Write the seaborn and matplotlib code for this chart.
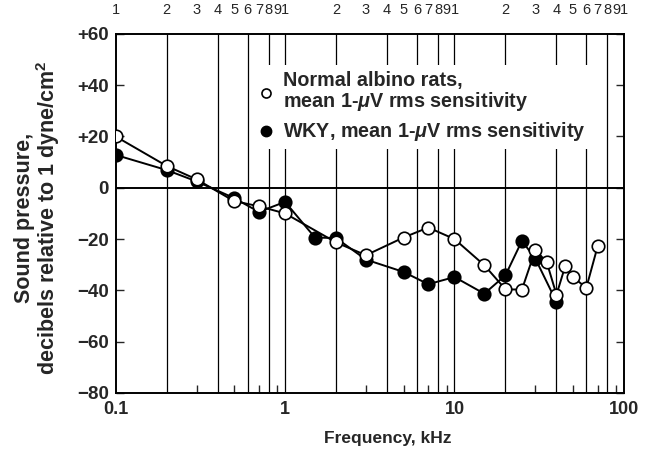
#!/usr/bin/env python3
"""Sound pressure sensitivity curves: normal albino rats vs WKY."""
import matplotlib

matplotlib.use("Agg")
import matplotlib.pyplot as plt
from matplotlib.lines import Line2D
import pandas as pd
import seaborn as sns

# Frequencies (kHz) and mean 1-uV rms sensitivity (dB re 1 dyne/cm^2)
NORMAL_FREQ = [0.1, 0.2, 0.3, 0.5, 0.7, 1.0, 2.0, 3.0, 5.0, 7.0, 10.0, 15.0,
               20.0, 25.0, 30.0, 35.0, 40.0, 45.0, 50.0, 60.0, 70.0]
NORMAL_DB = [20, 8.5, 3.3, -5.2, -7.2, -10, -21.3, -26.3, -19.4, -15.5, -20,
             -30.2, -39.6, -39.7, -24.3, -28.9, -41.7, -30.6, -34.8, -39, -22.8]

WKY_FREQ = [0.1, 0.2, 0.3, 0.5, 0.7, 1.0, 1.5, 2.0, 3.0, 5.0, 7.0, 10.0, 15.0,
            20.0, 25.0, 30.0, 40.0]
WKY_DB = [12.8, 6.9, 2.5, -4.0, -9.4, -5.5, -19.4, -19.6, -28, -32.8, -37.6,
          -34.8, -41.3, -34.1, -20.7, -27.6, -44.5]

NORMAL_LABEL = "Normal albino rats,\nmean 1-$\\mu$V rms sensitivity"
WKY_LABEL = "WKY, mean 1-$\\mu$V rms sensitivity"

Y_TICKS = [60, 40, 20, 0, -20, -40, -60, -80]
Y_TICK_LABELS = ["+60", "+40", "+20", "0", "\u221220", "\u221240", "\u221260", "\u221280"]
X_TICKS = [0.1, 1, 10, 100]
X_TICK_LABELS = ["0.1", "1", "10", "100"]

sns.set_style("white")
plt.rcParams["font.family"] = ["Liberation Sans", "DejaVu Sans"]
plt.rcParams["font.weight"] = "bold"
plt.rcParams["mathtext.fontset"] = "custom"
plt.rcParams["mathtext.rm"] = "Liberation Sans:bold"
plt.rcParams["mathtext.it"] = "Liberation Sans:italic:bold"

fig = plt.figure(figsize=(6.6, 4.58), dpi=100)
ax = fig.add_axes([0.1753, 0.142, 0.770, 0.784])

normal = pd.DataFrame({"freq": NORMAL_FREQ, "db": NORMAL_DB})
wky = pd.DataFrame({"freq": WKY_FREQ, "db": WKY_DB})

sns.lineplot(data=wky, x="freq", y="db", ax=ax, sort=False, color="black",
             lw=1.4, marker="o", markersize=9, markerfacecolor="black",
             markeredgecolor="black", markeredgewidth=1.2, zorder=4)
sns.lineplot(data=normal, x="freq", y="db", ax=ax, sort=False, color="black",
             lw=1.4, marker="o", markersize=9, markerfacecolor="white",
             markeredgecolor="black", markeredgewidth=1.2, zorder=5)

ax.set_xscale("log")
ax.set_xlim(0.1, 100)
ax.set_ylim(-80, 60)

# vertical rules at 2, 4, 6, 8 of each decade and at decade marks
for dec in (0.1, 1, 10):
    for m in (2, 4, 6, 8, 10):
        if dec * m < 100:
            ax.axvline(dec * m, color="black", lw=0.9, zorder=1)
ax.axhline(0, color="black", lw=1.4, zorder=1)

ax.set_xticks(X_TICKS)
ax.set_xticklabels(X_TICK_LABELS)
minor = [d * m for d in (0.1, 1, 10) for m in (3, 5, 7, 9)]
ax.set_xticks(minor, minor=True)
ax.xaxis.set_minor_formatter(matplotlib.ticker.NullFormatter())
ax.tick_params(axis="x", which="major", length=0, pad=6, labelsize=13)
ax.tick_params(axis="x", which="minor", direction="in", length=6, width=1,
               top=True, bottom=True)
ax.set_yticks(Y_TICKS)
ax.set_yticklabels(Y_TICK_LABELS)
ax.tick_params(axis="y", direction="in", length=6, width=1, left=True,
               right=True, labelsize=13.5, pad=5)

for sp in ax.spines.values():
    sp.set_color("black")
    sp.set_linewidth(1.4)

# top log-cycle labels
top = ax.twiny()
top.set_xscale("log")
top.set_xlim(0.1, 100)
top_pos = [d * m for d in (0.1, 1, 10) for m in range(1, 10)] + [100]
top_lab = [str(m) for d in (0.1, 1, 10) for m in range(1, 10)] + ["1"]
top.set_xticks(top_pos)
top.set_xticklabels(top_lab, fontweight="normal")
top.xaxis.set_minor_locator(matplotlib.ticker.NullLocator())
top.tick_params(axis="x", length=0, pad=12, labelsize=10.5)
for sp in top.spines.values():
    sp.set_visible(False)

ax.set_xlabel("Frequency, kHz", fontsize=12.5, fontweight="bold")
ax.xaxis.set_label_coords(0.536, -0.105)
ax.set_ylabel("Sound pressure,\ndecibels relative to 1 dyne/cm$^2$", fontsize=15.5,
              fontweight="bold", linespacing=0.98)
ax.yaxis.set_label_coords(-0.105, 0.487)

handles = [
    Line2D([], [], ls="none", marker="o", markersize=6.5, markerfacecolor="white",
           markeredgecolor="black", markeredgewidth=1.2),
    Line2D([], [], ls="none", marker="o", markersize=7.5, markerfacecolor="black",
           markeredgecolor="black"),
]
leg = ax.legend(handles, [NORMAL_LABEL, WKY_LABEL], loc="upper left",
                bbox_to_anchor=(0.268, 0.912), borderaxespad=0, frameon=True,
                fancybox=False, framealpha=1, facecolor="white",
                edgecolor="none", fontsize=14.2, handlelength=0.8,
                handletextpad=0.5, labelspacing=0.4, borderpad=0.3)
for t in leg.get_texts():
    t.set_linespacing(0.95)
leg.set_zorder(6)

fig.savefig("out.png", dpi=100)
